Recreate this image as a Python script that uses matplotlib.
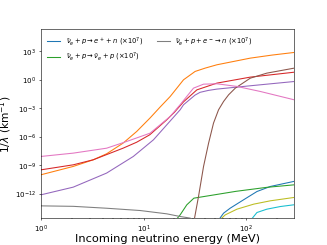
import numpy as np
import matplotlib
matplotlib.use('Agg')
import matplotlib.pyplot as plt

# =====================================================================
# DATOS (en log10)
#   logE : log10 de la energía del neutrino (MeV)
#   logV : log10 de 1/lambda (km^-1)
# =====================================================================
logE_blue = [1.72, 1.779, 1.844, 1.974, 2.104, 2.234, 2.462]
logV_blue = [-14.9, -14.02, -13.49, -12.61, -11.74, -11.21, -10.68]

logE_orange = [0, 0.315, 0.51, 0.64, 0.80, 0.933, 1.063, 1.161, 1.259, 1.389,
               1.502, 1.60, 1.714, 2.039, 2.25, 2.468]
logV_orange = [-9.98, -9.1, -8.4, -7.77, -6.65, -5.42, -4.0, -2.85, -1.74, 0.02,
               0.9, 1.25, 1.6, 2.3, 2.62, 2.9]

logE_green = [1.31, 1.356, 1.421, 1.49, 1.90, 2.2, 2.462]
logV_green = [-14.8, -14.2, -13.14, -12.44, -11.72, -11.3, -11.04]

logE_red = [0, 0.315, 0.51, 0.80, 0.933, 1.06, 1.226, 1.30, 1.389, 1.519,
            1.714, 2.039, 2.468]
logV_red = [-9.46, -8.93, -8.4, -7.18, -6.55, -5.77, -4.19, -3.4, -2.3, -1.04,
            -0.33, 0.30, 0.82]

logE_purple = [0, 0.315, 0.64, 0.90, 1.096, 1.356, 1.389, 1.50, 1.55, 1.63,
               1.714, 2.039, 2.468]
logV_purple = [-12.09, -11.28, -9.8, -8.05, -6.3, -3.14, -2.61, -1.6, -1.3, -1.1,
               -0.96, -0.61, -0.16]

logE_brown = [1.485, 1.535, 1.584, 1.633, 1.681, 1.730, 1.779, 1.828, 1.893,
              2.039, 2.2, 2.468]
logV_brown = [-15.2, -12.26, -9.1, -6.65, -4.54, -3.14, -2.26, -1.56, -0.86,
              0.19, 0.72, 1.25]

logE_pink = [0, 0.315, 0.64, 0.836, 1.063, 1.259, 1.356, 1.486, 1.584, 1.714,
             1.909, 2.137, 2.468]
logV_pink = [-8.05, -7.70, -7.18, -6.47, -5.6, -3.84, -2.6, -0.86, -0.44, -0.40,
             -0.68, -1.21, -2.09]

logE_gray = [0, 0.315, 0.64, 0.966, 1.226, 1.356, 1.454, 1.52]
logV_gray = [-13.25, -13.3, -13.5, -13.74, -14.09, -14.37, -14.54, -15.0]

logE_olive = [1.735, 1.795, 1.909, 2.072, 2.234, 2.462]
logV_olive = [-14.8, -14.2, -13.6, -13.07, -12.72, -12.37]

logE_cyan = [2.04, 2.104, 2.2, 2.332, 2.462]
logV_cyan = [-14.8, -13.95, -13.6, -13.32, -13.14]

ETIQUETAS = {
    'blue':  r'$\bar{\nu}_e + p \rightarrow e^+ + n\ (\times 10^7)$',
    'green': r'$\bar{\nu}_e + p \rightarrow \bar{\nu}_e + p\ (\times 10^7)$',
    'gray':  r'$\bar{\nu}_e + p + e^- \rightarrow n\ (\times 10^7)$',
}

# orden = ciclo de colores por defecto (C0..C9)
CURVAS = [
    (logE_blue, logV_blue, 'blue'),
    (logE_orange, logV_orange, 'orange'),
    (logE_green, logV_green, 'green'),
    (logE_red, logV_red, 'red'),
    (logE_purple, logV_purple, 'purple'),
    (logE_brown, logV_brown, 'brown'),
    (logE_pink, logV_pink, 'pink'),
    (logE_gray, logV_gray, 'gray'),
    (logE_olive, logV_olive, 'olive'),
    (logE_cyan, logV_cyan, 'cyan'),
]

# =====================================================================
# FIGURA
# =====================================================================
fig, ax = plt.subplots(figsize=(6.4, 4.8), dpi=51.1)

handles = []
for i, (lx, ly, nombre) in enumerate(CURVAS):
    line, = ax.plot(10 ** np.array(lx), 10 ** np.array(ly), color=f'C{i}')
    if nombre in ETIQUETAS:
        line.set_label(ETIQUETAS[nombre])
        handles.append(line)

ax.set_xscale('log')
ax.set_yscale('log')
ax.set_xlim(1, 10 ** 2.468)
ax.set_ylim(10 ** -14.53, 10 ** 5.35)

ax.set_xlabel('Incoming neutrino energy (MeV)', fontsize=16, labelpad=-1)
ax.set_ylabel(r'$1/\lambda$ (km$^{-1}$)', fontsize=15, labelpad=2)

ax.legend(handles=handles, loc='upper left', ncol=2, frameon=False, fontsize=9.5)

plt.savefig('out.png', dpi=51.1)
plt.close()
